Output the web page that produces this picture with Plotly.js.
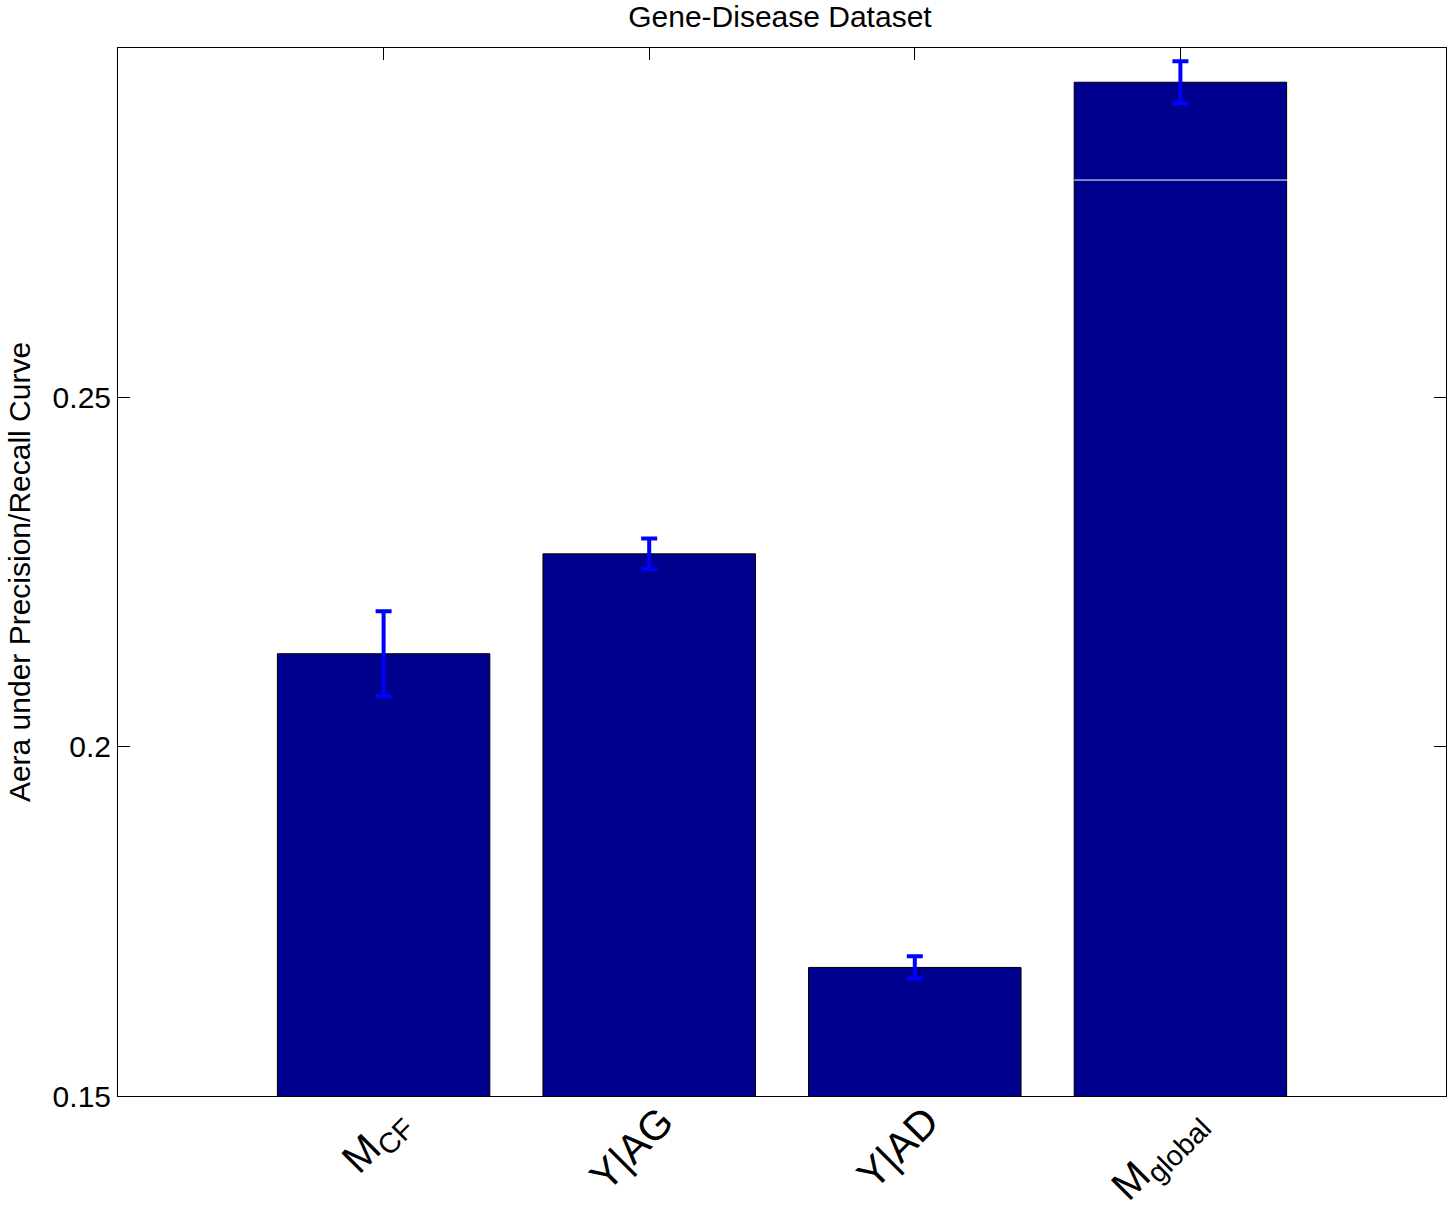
<!DOCTYPE html>
<html>
<head>
<meta charset="utf-8">
<script src="https://cdn.plot.ly/plotly-3.0.1.min.js"></script>
<style>html,body{margin:0;padding:0;background:#fff;}#chart{width:1447px;height:1206px;}</style>
</head>
<body>
<div id="chart"></div>
<script>
var categories = ['M<sub>CF</sub>', 'Y|AG', 'Y|AD', 'M<sub>global</sub>'];
var values = [0.2133, 0.2276, 0.1684, 0.2951];
var errors = [0.0061, 0.0022, 0.0016, 0.0030];
var yTickVals = [0.15, 0.2, 0.25];
var yTickText = ['0.15', '0.2', '0.25'];

var font = 'Liberation Sans, Arial, Helvetica, sans-serif';

var trace = {
  type: 'bar',
  x: categories,
  y: values,
  marker: {color: '#00008F', line: {color: '#000000', width: 1}},
  error_y: {type: 'data', array: errors, visible: true, color: '#0000FF', thickness: 4, width: 8},
  hoverinfo: 'x+y'
};

var layout = {
  width: 1447,
  height: 1206,
  margin: {l: 118, r: 1, t: 48, b: 110},
  paper_bgcolor: '#ffffff',
  plot_bgcolor: '#ffffff',
  showlegend: false,
  bargap: 0.2,
  font: {family: font, size: 30, color: '#000000'},
  title: {text: 'Gene-Disease Dataset', x: 0.539, xref: 'container', xanchor: 'center', y: 0.9865, yanchor: 'middle', font: {family: font, size: 30, color: '#000000'}},
  xaxis: {
    range: [-1, 4],
    showline: true, linecolor: '#000000', linewidth: 1, mirror: 'ticks',
    ticks: 'inside', ticklen: 12, tickcolor: '#000000', tickwidth: 1,
    showgrid: false, zeroline: false,
    tickangle: -45,
    tickfont: {family: font, size: 41, color: '#000000'},
    ticklabelshift: 12,
    ticklabelstandoff: -16,
    layer: 'below traces',
    fixedrange: true
  },
  yaxis: {
    range: [0.15, 0.3],
    tickvals: yTickVals, ticktext: yTickText,
    showline: true, linecolor: '#000000', linewidth: 1, mirror: 'ticks',
    ticks: 'inside', ticklen: 12, tickcolor: '#000000', tickwidth: 1,
    showgrid: false, zeroline: false,
    tickfont: {family: font, size: 30, color: '#000000'},
    title: {text: 'Aera under Precision/Recall Curve', font: {family: font, size: 30, color: '#000000'}, standoff: 13},
    automargin: false,
    fixedrange: true
  },
  shapes: [{type: 'line', xref: 'x', yref: 'y', x0: 2.6, x1: 4, y0: 0.2811, y1: 0.2811, line: {color: '#ffffff', width: 1}, layer: 'above'}]
};

Plotly.newPlot('chart', [trace], layout, {displayModeBar: false, responsive: false});
</script>
</body>
</html>
